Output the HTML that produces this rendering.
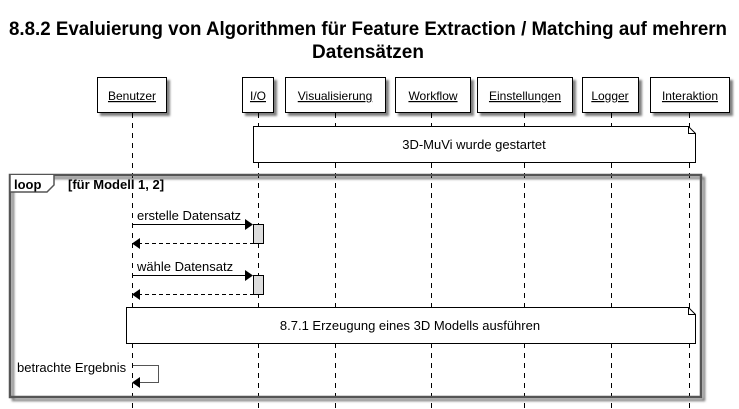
<!DOCTYPE html>
<html><head><meta charset="utf-8"><style>
html,body{margin:0;padding:0;background:#fff;}
svg{display:block;font-family:"Liberation Sans",sans-serif;}
</style></head><body>
<svg width="739" height="409" viewBox="0 0 739 409" xmlns="http://www.w3.org/2000/svg">
<defs>
<filter id="sh" x="-10%" y="-10%" width="130%" height="130%"><feDropShadow dx="3" dy="3" stdDeviation="1" flood-color="#000" flood-opacity="0.5"/></filter>
</defs>
<text x="368" y="35" font-size="19" font-weight="bold" text-anchor="middle" textLength="718" lengthAdjust="spacingAndGlyphs">8.8.2 Evaluierung von Algorithmen für Feature Extraction / Matching auf mehrern</text>
<text x="368" y="58" font-size="19" font-weight="bold" text-anchor="middle">Datensätzen</text>

<g stroke="#000" stroke-width="1" stroke-dasharray="5,5">
<line x1="132.5" y1="113" x2="132.5" y2="409"/>
<line x1="258.5" y1="113" x2="258.5" y2="409"/>
<line x1="335.5" y1="113" x2="335.5" y2="409"/>
<line x1="431.5" y1="113" x2="431.5" y2="409"/>
<line x1="524.5" y1="113" x2="524.5" y2="409"/>
<line x1="611.5" y1="113" x2="611.5" y2="409"/>
<line x1="689.5" y1="113" x2="689.5" y2="409"/>
</g>

<g fill="#fff" stroke="#000" filter="url(#sh)">
<rect x="97.5" y="77.5" width="69" height="35"/>
<rect x="242.5" y="77.5" width="31" height="35"/>
<rect x="285.5" y="77.5" width="100" height="35"/>
<rect x="395.5" y="77.5" width="75" height="35"/>
<rect x="477.5" y="77.5" width="95" height="35"/>
<rect x="582.5" y="77.5" width="56" height="35"/>
<rect x="650.5" y="77.5" width="79" height="35"/>
</g>
<g font-size="12" text-anchor="middle" text-decoration="underline">
<text x="132" y="100">Benutzer</text>
<text x="258" y="100">I/O</text>
<text x="335" y="100">Visualisierung</text>
<text x="433" y="100">Workflow</text>
<text x="525" y="100">Einstellungen</text>
<text x="610" y="100">Logger</text>
<text x="690" y="100">Interaktion</text>
</g>

<path d="M253.5 126.5 H688.5 L695.5 133.5 V162.5 H253.5 Z" fill="#fff" stroke="#000"/>
<path d="M688.5 126.5 V133.5 H695.5" fill="none" stroke="#000"/>
<text x="474" y="149" font-size="13" text-anchor="middle">3D-MuVi wurde gestartet</text>

<rect x="10" y="175" width="691" height="222" fill="none" stroke="#555" stroke-width="2.5" filter="url(#sh)"/>
<path d="M10 175 V192 H47 L54 185 V175" fill="#fff" stroke="#555" stroke-width="1.5"/>
<text x="14" y="189" font-size="13" font-weight="bold">loop</text>
<text x="68" y="189" font-size="13" font-weight="bold">[für Modell 1, 2]</text>

<text x="137" y="220" font-size="13">erstelle Datensatz</text>
<line x1="132" y1="224.5" x2="248" y2="224.5" stroke="#000"/>
<polygon points="253,224.5 245,219 245,230" fill="#000"/>
<rect x="253.5" y="224.5" width="10" height="19" fill="#ddd" stroke="#000"/>
<line x1="138" y1="243.5" x2="253" y2="243.5" stroke="#000" stroke-dasharray="4,3"/>
<polygon points="132,243.5 140,238 140,249" fill="#000"/>

<text x="137" y="271" font-size="13">wähle Datensatz</text>
<line x1="132" y1="275.5" x2="248" y2="275.5" stroke="#000"/>
<polygon points="253,275.5 245,270 245,281" fill="#000"/>
<rect x="253.5" y="275.5" width="10" height="19" fill="#ddd" stroke="#000"/>
<line x1="138" y1="294.5" x2="253" y2="294.5" stroke="#000" stroke-dasharray="4,3"/>
<polygon points="132,294.5 140,289 140,300" fill="#000"/>

<path d="M126.5 307.5 H688.5 L695.5 314.5 V343.5 H126.5 Z" fill="#fff" stroke="#000"/>
<path d="M688.5 307.5 V314.5 H695.5" fill="none" stroke="#000"/>
<text x="410" y="330" font-size="13" text-anchor="middle">8.7.1 Erzeugung eines 3D Modells ausführen</text>

<text x="17" y="372" font-size="13">betrachte Ergebnis</text>
<path d="M133 365.5 H158.5 V382.5 H138" fill="none" stroke="#555"/>
<polygon points="132,382.5 140,377 140,388" fill="#000"/>
</svg>
</body></html>
